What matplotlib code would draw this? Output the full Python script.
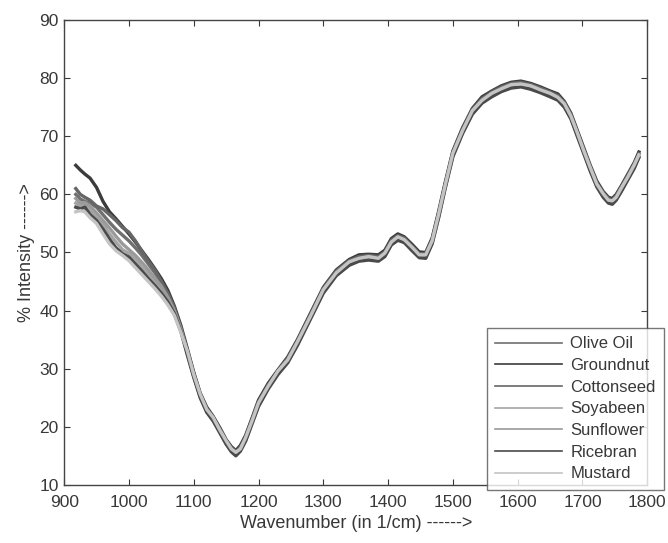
import matplotlib
matplotlib.use("Agg")
import matplotlib.pyplot as plt

# wavenumber grid (1/cm)
wavenumber = [918, 925, 932, 940, 950, 960, 970, 980, 990, 1000, 1010, 1020, 1030, 1040,
              1050, 1060, 1070, 1080, 1090, 1100, 1110, 1120, 1130, 1140, 1150, 1158, 1165,
              1172, 1180, 1190, 1200, 1215, 1230, 1245, 1260, 1280, 1300, 1320, 1340, 1355,
              1370, 1385, 1395, 1405, 1415, 1425, 1437, 1448, 1458, 1468, 1478, 1488, 1500,
              1515, 1530, 1545, 1560, 1575, 1590, 1605, 1620, 1635, 1650, 1662, 1672, 1682,
              1692, 1702, 1712, 1722, 1732, 1740, 1746, 1752, 1760, 1770, 1780, 1787]

olive_oil = [60, 59.2, 58.8, 58.5, 57.8, 56.5, 55.2, 54, 53, 52, 50.8, 49.5, 48, 46.5, 44.8, 42.8, 40.3, 37,
             33, 29.1, 25.4, 23.1, 21.4, 19.6, 17.4, 16.3, 15.4, 16.4, 17.9, 21.1, 23.9, 27.1, 29.4, 31.6,
             34.4, 39.1, 43.4, 46.6, 48.2, 49.1, 49.1, 49.1, 49.7, 51.9, 52.5, 52.3, 50.7, 49.7, 49.4, 52.1,
             56.4, 61.6, 66.9, 71.1, 74.2, 76.3, 77.2, 78.3, 78.7, 79.1, 78.5, 78.1, 77.2, 76.8, 75.4, 73.6,
             70.4, 67.6, 64.4, 61.9, 59.9, 59.1, 58.7, 59.6, 60.9, 63.1, 64.9, 66.9]
groundnut = [65, 64.2, 63.5, 62.8, 61.2, 58.8, 57, 55.8, 54.5, 53.2, 51.8, 50.3, 48.8, 47.2, 45.5, 43.5, 40.8, 37.5,
             33.5, 29.4, 25.8, 23.4, 21.8, 19.9, 17.8, 16.6, 15.9, 16.8, 18.5, 21.5, 24.6, 27.5, 29.8, 32,
             35, 39.5, 44, 47, 48.8, 49.6, 49.7, 49.6, 50.4, 52.4, 53.2, 52.7, 51.4, 50.1, 50, 52.5,
             57.1, 62, 67.5, 71.5, 74.8, 76.8, 77.8, 78.7, 79.3, 79.5, 79.1, 78.5, 77.8, 77.3, 76, 74,
             71, 68, 65, 62.3, 60.5, 59.5, 59.3, 60, 61.5, 63.5, 65.5, 67.3]
cottonseed = [61, 60, 59.5, 59, 58, 57.5, 56.5, 55.5, 54.3, 53.5, 52, 50.2, 48.5, 47, 45, 43, 40.5, 37.2,
              33.2, 29.2, 25.7, 23.2, 21.6, 19.7, 17.7, 16.4, 15.7, 16.5, 18.2, 21.3, 24.3, 27.2, 29.6, 31.8,
              34.8, 39.3, 43.8, 46.8, 48.6, 49.3, 49.5, 49.3, 50.1, 52.1, 52.9, 52.5, 51.1, 49.8, 49.8, 52.3,
              56.8, 61.8, 67.3, 71.3, 74.6, 76.5, 77.6, 78.5, 79.1, 79.3, 78.9, 78.3, 77.6, 77, 75.8, 73.8,
              70.8, 67.8, 64.8, 62, 60.3, 59.3, 59, 59.8, 61.3, 63.3, 65.3, 67]
soyabeen = [58.5, 58, 58.3, 57.2, 56, 54.8, 53.2, 51.8, 50.5, 49.8, 48.8, 47.5, 46.3, 45, 43.6, 42, 39.8, 36.7,
            32.6, 28.7, 25.1, 22.7, 21.1, 19.2, 17.1, 15.9, 15.1, 16, 17.6, 20.6, 23.6, 26.7, 29.1, 31.2,
            34.1, 38.6, 43.1, 46.2, 47.9, 48.7, 48.8, 48.7, 49.4, 51.4, 52.2, 51.9, 50.4, 49.3, 49.1, 51.6,
            56.1, 61.1, 66.6, 70.6, 73.9, 75.9, 76.9, 77.9, 78.4, 78.7, 78.2, 77.7, 76.9, 76.4, 75.1, 73.2,
            70.1, 67.2, 64.1, 61.5, 59.6, 58.7, 58.4, 59.2, 60.6, 62.7, 64.6, 66.5]
sunflower = [59.3, 58.5, 58.6, 58, 56.8, 55.5, 54.2, 52.8, 51.5, 50.5, 49.5, 48.3, 47, 45.6, 44.2, 42.3, 40, 36.8,
             32.8, 28.8, 25.3, 22.8, 21.3, 19.3, 17.3, 16, 15.3, 16.1, 17.8, 20.8, 23.8, 26.8, 29.3, 31.3,
             34.3, 38.8, 43.3, 46.3, 48.1, 48.8, 49, 48.8, 49.6, 51.6, 52.4, 52, 50.6, 49.4, 49.3, 51.8,
             56.3, 61.3, 66.8, 70.8, 74.1, 76, 77.1, 78, 78.6, 78.8, 78.4, 77.8, 77.1, 76.5, 75.3, 73.3,
             70.3, 67.3, 64.3, 61.6, 59.8, 58.8, 58.6, 59.3, 60.8, 62.8, 64.8, 66.6]
ricebran = [57.8, 57.5, 57.8, 56.5, 55.5, 54, 52.3, 50.8, 49.8, 49.2, 48, 46.8, 45.5, 44.3, 43, 41.5, 39.5, 36.5,
            32.4, 28.5, 25, 22.5, 21, 19, 17, 15.7, 15, 15.8, 17.5, 20.5, 23.5, 26.5, 29, 31,
            34, 38.5, 43, 46, 47.8, 48.5, 48.7, 48.5, 49.3, 51.3, 52.1, 51.7, 50.3, 49.1, 49, 51.5,
            56, 61, 66.5, 70.5, 73.8, 75.7, 76.8, 77.7, 78.3, 78.5, 78.1, 77.5, 76.8, 76.2, 75, 73,
            70, 67, 64, 61.3, 59.5, 58.5, 58.3, 59, 60.5, 62.5, 64.5, 66.3]
mustard = [57, 57.2, 57, 56, 55, 53.2, 51.5, 50.3, 49.5, 48.6, 47.4, 46.2, 45, 43.8, 42.5, 41, 39.2, 36.3,
           33.1, 29, 25.6, 23, 21.6, 19.5, 17.6, 16.2, 15.6, 16.2, 18.1, 21, 24.1, 27, 29.6, 31.5,
           34.6, 39, 43.6, 46.5, 48.4, 49, 49.3, 49, 49.9, 51.8, 52.7, 52.2, 50.9, 49.6, 49.6, 52,
           56.6, 61.5, 67.1, 71, 74.4, 76.2, 77.4, 78.2, 78.9, 79, 78.7, 78, 77.4, 76.7, 75.6, 73.5,
           70.6, 67.5, 64.6, 61.8, 60.1, 59, 58.9, 59.5, 61.1, 63, 65.1, 66.8]

labels = ["Olive Oil", "Groundnut", "Cottonseed", "Soyabeen", "Sunflower", "Ricebran", "Mustard"]
series = [olive_oil, groundnut, cottonseed, soyabeen, sunflower, ricebran, mustard]
grays = ["#707070", "#3c3c3c", "#666666", "#a4a4a4", "#9a9a9a", "#4a4a4a", "#c4c4c4"]

INK = "#383838"
plt.rcParams.update({"font.family": ["Liberation Sans", "DejaVu Sans"], "font.size": 12})

fig = plt.figure(figsize=(6.68, 5.43), dpi=100)
ax = fig.add_axes([0.096, 0.107, 0.873, 0.856])

for ys, lab, c in zip(series, labels, grays):
    ax.plot(wavenumber, ys, color=c, lw=2.4, label=lab)

ax.set_xlim(900, 1800)
ax.set_ylim(10, 90)
ax.set_xticks(range(900, 1801, 100))
ax.set_yticks(range(10, 91, 10))
ax.tick_params(direction="in", top=True, right=True, length=4, colors=INK, labelsize=12.5)
ax.tick_params(axis="x", pad=7)
ax.tick_params(axis="y", pad=4)
for s in ax.spines.values():
    s.set_color("#444444")
    s.set_linewidth(1.0)

ax.set_xlabel("Wavenumber (in 1/cm) ------>", fontsize=13, color=INK, labelpad=4)
ax.set_ylabel("% Intensity ------>", fontsize=13, color=INK, labelpad=3)

leg = ax.legend(loc="upper left", bbox_to_anchor=(487 / 668, 1 - 328 / 543),
                bbox_transform=fig.transFigure, frameon=True, fancybox=False,
                handlelength=4.0, handletextpad=0.5, labelspacing=0.4,
                borderpad=0.5, fontsize=12, borderaxespad=0)
leg.set_zorder(5)
leg.get_frame().set_edgecolor("#555555")
leg.get_frame().set_linewidth(1.0)
for ln in leg.get_lines():
    ln.set_linewidth(1.2)
for t in leg.get_texts():
    t.set_color(INK)

fig.savefig("out.png", dpi=100)
